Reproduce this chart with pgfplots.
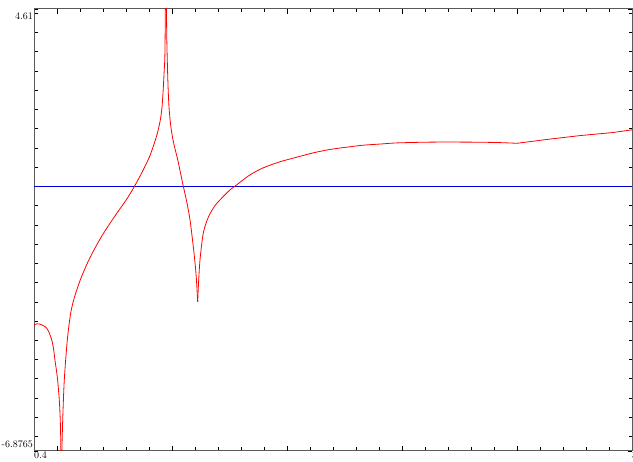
\documentclass[border=0pt]{standalone}
\usepackage{pgfplots}
\pgfplotsset{compat=1.18}

\begin{document}
\begin{tikzpicture}
\begin{axis}[
    scale only axis,
    width=598pt, height=442pt,
    xmin=0.4, xmax=3.0,
    ymin=-6.8765, ymax=4.61,
    font=\normalsize,
    axis line style={gray!70!black, line width=1pt},
    tick style={black, line width=0.6pt},
    tick align=inside,
    xtick={0.4,3}, xticklabels={0.4,3},
    xticklabel style={anchor=north west, inner xsep=0pt, inner ysep=1pt},
    extra x ticks={0.5,1.0,1.5,2.0,2.5},
    extra x tick labels={},
    extra x tick style={major tick length=5pt},
    minor xtick={0.6,0.7,0.8,0.9,1.1,1.2,1.3,1.4,1.6,1.7,1.8,1.9,2.1,2.2,2.3,2.4,2.6,2.7,2.8,2.9},
    minor tick length=3.5pt,
    major tick length=4pt,
    ytick={4.61}, yticklabels={4.61},
    yticklabel style={anchor=north east, inner xsep=1pt},
    extra y ticks={-6.8765}, extra y tick labels={-6.8765},
    extra y tick style={yticklabel style={anchor=south east, inner xsep=1pt}},
    minor ytick={-6.5,-6,-5.5,-5,-4.5,-4,-3.5,-3,-2.5,-2,-1.5,-1,-0.5,0,0.5,1,1.5,2,2.5,3,3.5,4,4.5},
    clip=true,
]
% horizontal reference line
\addplot[blue!85!black, line width=0.7pt] coordinates {(0.4,0) (3.0,0)};
% response curve, one smooth piece between each pair of spikes
\addplot[red, line width=0.8pt, smooth, tension=0.45] coordinates {
    (0.400,-3.60) (0.413,-3.57) (0.426,-3.58) (0.441,-3.62) (0.455,-3.68)
    (0.466,-3.80) (0.477,-3.99) (0.485,-4.22) (0.491,-4.51) (0.498,-4.80)
    (0.503,-5.05) (0.510,-5.55) (0.514,-6.05) (0.5165,-6.70) (0.5187,-8.5)
};
\addplot[red, line width=0.8pt, smooth, tension=0.45] coordinates {
    (0.5187,-8.5) (0.5204,-7.11) (0.5248,-6.07) (0.5317,-5.03)
    (0.5448,-3.99) (0.5596,-3.29) (0.5750,-2.90) (0.600,-2.45)
    (0.630,-2.02) (0.6609,-1.65) (0.700,-1.24) (0.7609,-0.69)
    (0.800,-0.36) (0.8348,-0.02) (0.870,0.37) (0.900,0.74)
    (0.9174,1.02) (0.935,1.35) (0.9478,1.68) (0.9560,2.02)
    (0.9609,2.43) (0.9660,3.00) (0.9696,3.60) (0.9735,6.5)
};
\addplot[red, line width=0.8pt, smooth, tension=0.45] coordinates {
    (0.9735,6.5) (0.9770,3.99) (0.9820,2.75) (0.9870,2.06) (0.9950,1.55)
    (1.0043,1.21) (1.0150,0.93) (1.0261,0.66) (1.0370,0.35) (1.0478,0.04)
    (1.0652,-0.43) (1.0783,-0.87) (1.0913,-1.50) (1.1000,-1.98) (1.1060,-2.40)
    (1.1117,-3.00)
};
\addplot[red, line width=0.8pt, smooth, tension=0.45] coordinates {
    (1.1117,-3.00) (1.1150,-2.55) (1.1217,-1.91) (1.1348,-1.25)
    (1.1500,-0.92) (1.1652,-0.71) (1.1870,-0.50) (1.2087,-0.35) (1.2522,-0.09)
    (1.2813,0.04) (1.3391,0.30) (1.3957,0.48) (1.4696,0.64) (1.5435,0.76)
    (1.6130,0.87) (1.6870,0.96) (1.7609,1.02) (1.8304,1.07) (1.9043,1.10)
    (1.9783,1.13) (2.1217,1.15) (2.2957,1.15) (2.4130,1.14) (2.5000,1.12)
};
\addplot[red, line width=0.8pt] coordinates {
    (2.5000,1.12) (2.5261,1.14) (2.6304,1.22) (2.7739,1.32) (2.9174,1.40) (3.0000,1.47)
};
\end{axis}
\pgfresetboundingbox
\path[use as bounding box] ([xshift=-34pt,yshift=9pt]current axis.north west)
    rectangle ([xshift=1pt,yshift=-11pt]current axis.south east);
\end{tikzpicture}
\end{document}
